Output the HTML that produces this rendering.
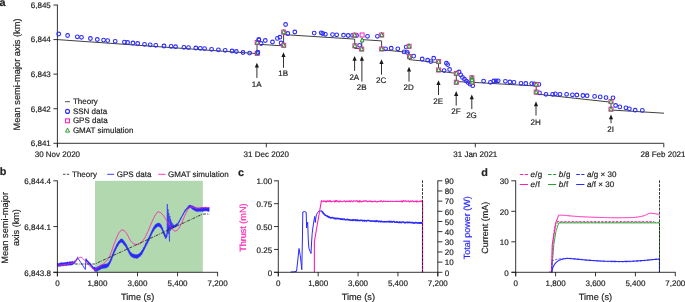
<!DOCTYPE html>
<html lang="en">
<head>
<meta charset="utf-8">
<title>Figure</title>
<style>
html,body{margin:0;padding:0;background:#ffffff;}
body{width:685px;height:302px;overflow:hidden;}
svg{display:block;text-rendering:geometricPrecision;font-family:"Liberation Sans",Arial,Helvetica,sans-serif;}
</style>
</head>
<body>
<svg width="685" height="302" viewBox="0 0 685 302">
<rect x="0" y="0" width="685" height="302" fill="#ffffff"/>
<line x1="57.4" y1="4.65" x2="57.4" y2="147.3" stroke="#1a1a1a" stroke-width="0.88"/>
<line x1="53.4" y1="143.3" x2="663.8" y2="143.3" stroke="#1a1a1a" stroke-width="0.88"/>
<line x1="53.4" y1="5" x2="57.4" y2="5" stroke="#1a1a1a" stroke-width="0.88"/>
<text x="50.8" y="7.9" font-size="8.0" text-anchor="end" fill="#222222" stroke="#222222" stroke-width="0.18">6,845</text>
<line x1="53.4" y1="39.58" x2="57.4" y2="39.58" stroke="#1a1a1a" stroke-width="0.88"/>
<text x="50.8" y="42.48" font-size="8.0" text-anchor="end" fill="#222222" stroke="#222222" stroke-width="0.18">6,844</text>
<line x1="53.4" y1="74.15" x2="57.4" y2="74.15" stroke="#1a1a1a" stroke-width="0.88"/>
<text x="50.8" y="77.05" font-size="8.0" text-anchor="end" fill="#222222" stroke="#222222" stroke-width="0.18">6,843</text>
<line x1="53.4" y1="108.73" x2="57.4" y2="108.73" stroke="#1a1a1a" stroke-width="0.88"/>
<text x="50.8" y="111.63" font-size="8.0" text-anchor="end" fill="#222222" stroke="#222222" stroke-width="0.18">6,842</text>
<text x="50.8" y="146.2" font-size="8.0" text-anchor="end" fill="#222222" stroke="#222222" stroke-width="0.18">6,841</text>
<line x1="57.4" y1="143.3" x2="57.4" y2="147.3" stroke="#1a1a1a" stroke-width="0.88"/>
<text x="57.4" y="157.3" font-size="8.0" text-anchor="middle" fill="#222222" stroke="#222222" stroke-width="0.18">30 Nov 2020</text>
<line x1="266.3" y1="143.3" x2="266.3" y2="147.3" stroke="#1a1a1a" stroke-width="0.88"/>
<text x="266.3" y="157.3" font-size="8.0" text-anchor="middle" fill="#222222" stroke="#222222" stroke-width="0.18">31 Dec 2020</text>
<line x1="475.3" y1="143.3" x2="475.3" y2="147.3" stroke="#1a1a1a" stroke-width="0.88"/>
<text x="475.3" y="157.3" font-size="8.0" text-anchor="middle" fill="#222222" stroke="#222222" stroke-width="0.18">31 Jan 2021</text>
<line x1="663.8" y1="143.3" x2="663.8" y2="147.3" stroke="#1a1a1a" stroke-width="0.88"/>
<text x="685.5" y="157.3" font-size="8.0" text-anchor="end" fill="#222222" stroke="#222222" stroke-width="0.18">28 Feb 2021</text>
<text x="20" y="74.5" font-size="9.3" text-anchor="middle" fill="#222222" transform="rotate(-90 20 74.5)" stroke="#222222" stroke-width="0.18">Mean semi-major axis (km)</text>
<text x="-0.6" y="5.6" font-size="10.8" text-anchor="start" fill="#222222" font-weight="bold" stroke="#222222" stroke-width="0.18">a</text>
<path d="M57.4 39.6 L257 53.6 L257 44.2 L283.6 45.9 L283.6 34.6 L354.7 39.1 L354.7 48.4 L361.8 48.9 L361.8 39.6 L381.6 40.9 L381.6 49.8 L409 52.4 L409 59.6 L438.5 62.6 L438.5 71 L456.3 73.4 L456.3 81.6 L472 82.3 L536.2 86 L536.2 94 L611 102.2 L611 110 L664 113.2" fill="none" stroke="#000000" stroke-width="0.75" stroke-linejoin="miter"/>
<line x1="256.9" y1="65.8" x2="256.9" y2="77.9" stroke="#1a1a1a" stroke-width="0.9"/>
<path d="M256.9 62.8 L254.8 67.6 L259 67.6 Z" fill="#1a1a1a"/>
<text x="256.6" y="86.8" font-size="8.0" text-anchor="middle" fill="#222222" stroke="#222222" stroke-width="0.18">1A</text>
<line x1="283.5" y1="55.2" x2="283.5" y2="67.9" stroke="#1a1a1a" stroke-width="0.9"/>
<path d="M283.5 52.2 L281.4 57 L285.6 57 Z" fill="#1a1a1a"/>
<text x="283.2" y="76.1" font-size="8.0" text-anchor="middle" fill="#222222" stroke="#222222" stroke-width="0.18">1B</text>
<line x1="354.6" y1="59" x2="354.6" y2="70.9" stroke="#1a1a1a" stroke-width="0.9"/>
<path d="M354.6 56 L352.5 60.8 L356.7 60.8 Z" fill="#1a1a1a"/>
<text x="354.3" y="79.5" font-size="8.0" text-anchor="middle" fill="#222222" stroke="#222222" stroke-width="0.18">2A</text>
<line x1="361.9" y1="59" x2="361.9" y2="81.6" stroke="#1a1a1a" stroke-width="0.9"/>
<path d="M361.9 56 L359.8 60.8 L364 60.8 Z" fill="#1a1a1a"/>
<text x="361.6" y="89.8" font-size="8.0" text-anchor="middle" fill="#222222" stroke="#222222" stroke-width="0.18">2B</text>
<line x1="381.5" y1="62.2" x2="381.5" y2="74.6" stroke="#1a1a1a" stroke-width="0.9"/>
<path d="M381.5 59.2 L379.4 64 L383.6 64 Z" fill="#1a1a1a"/>
<text x="381.2" y="82.8" font-size="8.0" text-anchor="middle" fill="#222222" stroke="#222222" stroke-width="0.18">2C</text>
<line x1="409" y1="69.7" x2="409" y2="81.6" stroke="#1a1a1a" stroke-width="0.9"/>
<path d="M409 66.7 L406.9 71.5 L411.1 71.5 Z" fill="#1a1a1a"/>
<text x="408.7" y="89.8" font-size="8.0" text-anchor="middle" fill="#222222" stroke="#222222" stroke-width="0.18">2D</text>
<line x1="438.5" y1="83.2" x2="438.5" y2="95.1" stroke="#1a1a1a" stroke-width="0.9"/>
<path d="M438.5 80.2 L436.4 85 L440.6 85 Z" fill="#1a1a1a"/>
<text x="438.2" y="103.6" font-size="8.0" text-anchor="middle" fill="#222222" stroke="#222222" stroke-width="0.18">2E</text>
<line x1="456.2" y1="94.1" x2="456.2" y2="105.6" stroke="#1a1a1a" stroke-width="0.9"/>
<path d="M456.2 91.1 L454.1 95.9 L458.3 95.9 Z" fill="#1a1a1a"/>
<text x="455.9" y="113.7" font-size="8.0" text-anchor="middle" fill="#222222" stroke="#222222" stroke-width="0.18">2F</text>
<line x1="471.8" y1="97.4" x2="471.8" y2="109" stroke="#1a1a1a" stroke-width="0.9"/>
<path d="M471.8 94.4 L469.7 99.2 L473.9 99.2 Z" fill="#1a1a1a"/>
<text x="471.5" y="117.5" font-size="8.0" text-anchor="middle" fill="#222222" stroke="#222222" stroke-width="0.18">2G</text>
<line x1="536" y1="104.5" x2="536" y2="115.5" stroke="#1a1a1a" stroke-width="0.9"/>
<path d="M536 101.5 L533.9 106.3 L538.1 106.3 Z" fill="#1a1a1a"/>
<text x="535.7" y="125" font-size="8.0" text-anchor="middle" fill="#222222" stroke="#222222" stroke-width="0.18">2H</text>
<line x1="611" y1="117.4" x2="611" y2="123.3" stroke="#1a1a1a" stroke-width="0.9"/>
<path d="M611 114.4 L608.9 119.2 L613.1 119.2 Z" fill="#1a1a1a"/>
<text x="610.7" y="131.8" font-size="8.0" text-anchor="middle" fill="#222222" stroke="#222222" stroke-width="0.18">2I</text>
<g fill="none" stroke="#2a2afc" stroke-width="1.08">
<circle cx="58.7" cy="34" r="1.85"/>
<circle cx="67.6" cy="35.5" r="1.85"/>
<circle cx="77.3" cy="36.8" r="1.85"/>
<circle cx="81.5" cy="37.3" r="1.85"/>
<circle cx="90.4" cy="38.5" r="1.85"/>
<circle cx="97.3" cy="39.5" r="1.85"/>
<circle cx="103.6" cy="40.1" r="1.85"/>
<circle cx="107.7" cy="40.6" r="1.85"/>
<circle cx="115.2" cy="41.3" r="1.85"/>
<circle cx="124.4" cy="42.1" r="1.85"/>
<circle cx="127.6" cy="42.5" r="1.85"/>
<circle cx="132.9" cy="43" r="1.85"/>
<circle cx="137.7" cy="43.5" r="1.85"/>
<circle cx="144.5" cy="44.3" r="1.85"/>
<circle cx="150.2" cy="44.8" r="1.85"/>
<circle cx="155.8" cy="45.3" r="1.85"/>
<circle cx="164" cy="46" r="1.85"/>
<circle cx="171.1" cy="46.4" r="1.85"/>
<circle cx="175.6" cy="46.7" r="1.85"/>
<circle cx="183.9" cy="47.3" r="1.85"/>
<circle cx="188.5" cy="47.6" r="1.85"/>
<circle cx="195.8" cy="48" r="1.85"/>
<circle cx="200.3" cy="48.3" r="1.85"/>
<circle cx="204.6" cy="48.6" r="1.85"/>
<circle cx="211.6" cy="49.3" r="1.85"/>
<circle cx="218.4" cy="49.8" r="1.85"/>
<circle cx="225.2" cy="50.3" r="1.85"/>
<circle cx="232" cy="51" r="1.85"/>
<circle cx="236.3" cy="51.5" r="1.85"/>
<circle cx="243" cy="52.5" r="1.85"/>
<circle cx="249.6" cy="53.1" r="1.85"/>
<circle cx="257.8" cy="52.5" r="1.85"/>
<circle cx="258.8" cy="39.7" r="1.85"/>
<circle cx="261.1" cy="43.5" r="1.85"/>
<circle cx="265.3" cy="40.5" r="1.85"/>
<circle cx="272.5" cy="42" r="1.85"/>
<circle cx="277.4" cy="38.4" r="1.85"/>
<circle cx="279.9" cy="37.2" r="1.85"/>
<circle cx="281.1" cy="43" r="1.85"/>
<circle cx="285.6" cy="24.5" r="1.85"/>
<circle cx="287.8" cy="33.5" r="1.85"/>
<circle cx="294.8" cy="32" r="1.85"/>
<circle cx="314.2" cy="33.1" r="1.85"/>
<circle cx="321.2" cy="32.8" r="1.85"/>
<circle cx="322.7" cy="33.5" r="1.85"/>
<circle cx="325.4" cy="34.3" r="1.85"/>
<circle cx="332.5" cy="34.6" r="1.85"/>
<circle cx="336.7" cy="34.8" r="1.85"/>
<circle cx="343.5" cy="35.2" r="1.85"/>
<circle cx="348.2" cy="35.5" r="1.85"/>
<circle cx="352.5" cy="35.4" r="1.85"/>
<circle cx="356.6" cy="35.5" r="1.85"/>
<circle cx="359.6" cy="45.3" r="1.85"/>
<circle cx="367.5" cy="36.3" r="1.85"/>
<circle cx="377.4" cy="36.3" r="1.85"/>
<circle cx="385.6" cy="48.8" r="1.85"/>
<circle cx="391.2" cy="48.2" r="1.85"/>
<circle cx="397.8" cy="48.8" r="1.85"/>
<circle cx="404.1" cy="51.9" r="1.85"/>
<circle cx="406.2" cy="47.1" r="1.85"/>
<circle cx="407.4" cy="52.5" r="1.85"/>
<circle cx="413.7" cy="56.1" r="1.85"/>
<circle cx="422.2" cy="59" r="1.85"/>
<circle cx="427.6" cy="60.2" r="1.85"/>
<circle cx="430.8" cy="61.6" r="1.85"/>
<circle cx="433.7" cy="58.2" r="1.85"/>
<circle cx="446.4" cy="63.2" r="1.85"/>
<circle cx="447.7" cy="64.6" r="1.85"/>
<circle cx="449.6" cy="69.5" r="1.85"/>
<circle cx="444.1" cy="70.6" r="1.85"/>
<circle cx="459.1" cy="72" r="1.85"/>
<circle cx="460.7" cy="74.9" r="1.85"/>
<circle cx="462.5" cy="77.4" r="1.85"/>
<circle cx="464.5" cy="79.2" r="1.85"/>
<circle cx="466.4" cy="81.1" r="1.85"/>
<circle cx="468.2" cy="82.6" r="1.85"/>
<circle cx="470.2" cy="84.2" r="1.85"/>
<circle cx="472.7" cy="85.7" r="1.85"/>
<circle cx="483.6" cy="81.1" r="1.85"/>
<circle cx="490.4" cy="82.3" r="1.85"/>
<circle cx="493.8" cy="81" r="1.85"/>
<circle cx="496.1" cy="80.8" r="1.85"/>
<circle cx="498.2" cy="80.8" r="1.85"/>
<circle cx="505.4" cy="81.3" r="1.85"/>
<circle cx="509.9" cy="82" r="1.85"/>
<circle cx="514" cy="82.3" r="1.85"/>
<circle cx="521" cy="83.3" r="1.85"/>
<circle cx="525.8" cy="83.5" r="1.85"/>
<circle cx="531.7" cy="83.6" r="1.85"/>
<circle cx="534.4" cy="83.8" r="1.85"/>
<circle cx="538.9" cy="84.4" r="1.85"/>
<circle cx="539.5" cy="92.9" r="1.85"/>
<circle cx="546" cy="94.3" r="1.85"/>
<circle cx="552.6" cy="94.3" r="1.85"/>
<circle cx="555.4" cy="93.8" r="1.85"/>
<circle cx="560" cy="94.3" r="1.85"/>
<circle cx="566.6" cy="94.3" r="1.85"/>
<circle cx="572.4" cy="94.8" r="1.85"/>
<circle cx="576.9" cy="95" r="1.85"/>
<circle cx="582.9" cy="95.5" r="1.85"/>
<circle cx="587.1" cy="95.7" r="1.85"/>
<circle cx="594.6" cy="96.4" r="1.85"/>
<circle cx="600.2" cy="96.9" r="1.85"/>
<circle cx="606" cy="97.6" r="1.85"/>
<circle cx="613" cy="97.8" r="1.85"/>
<circle cx="615.6" cy="105.5" r="1.85"/>
<circle cx="619.8" cy="106.9" r="1.85"/>
<circle cx="625.9" cy="107.8" r="1.85"/>
<circle cx="629.4" cy="108.8" r="1.85"/>
<circle cx="635.2" cy="110.2" r="1.85"/>
<circle cx="642.3" cy="110.4" r="1.85"/>
</g>
<g fill="#ffffff" stroke="#ff1fb4" stroke-width="1.0">
<rect x="255.2" y="40.5" width="4.0" height="4.0"/>
<rect x="255.2" y="51.3" width="4.0" height="4.0"/>
<rect x="281.7" y="30.1" width="4.0" height="4.0"/>
<rect x="281.7" y="43.3" width="4.0" height="4.0"/>
<rect x="352.7" y="33.2" width="4.0" height="4.0"/>
<rect x="352.9" y="43.8" width="4.0" height="4.0"/>
<rect x="360.1" y="33" width="4.0" height="4.0"/>
<rect x="359.7" y="47.1" width="4.0" height="4.0"/>
<rect x="379.7" y="33" width="4.0" height="4.0"/>
<rect x="379.7" y="47" width="4.0" height="4.0"/>
<rect x="407.1" y="44.3" width="4.0" height="4.0"/>
<rect x="407.5" y="54.6" width="4.0" height="4.0"/>
<rect x="436.6" y="59.6" width="4.0" height="4.0"/>
<rect x="436.6" y="68" width="4.0" height="4.0"/>
<rect x="454.3" y="71.4" width="4.0" height="4.0"/>
<rect x="454.3" y="80.3" width="4.0" height="4.0"/>
<rect x="469.9" y="75.8" width="4.0" height="4.0"/>
<rect x="470.2" y="80.3" width="4.0" height="4.0"/>
<rect x="534.2" y="82.5" width="4.0" height="4.0"/>
<rect x="534.2" y="90.1" width="4.0" height="4.0"/>
<rect x="609" y="99.6" width="4.0" height="4.0"/>
<rect x="609" y="107.2" width="4.0" height="4.0"/>
</g>
<g fill="#ffffff" stroke="#228f2c" stroke-width="1.0" stroke-linejoin="miter">
<path d="M257.2 39.9 L259.05 44.1 L255.35 44.1 Z"/>
<path d="M257.2 50.7 L259.05 54.9 L255.35 54.9 Z"/>
<path d="M283.7 29.5 L285.55 33.7 L281.85 33.7 Z"/>
<path d="M283.7 42.7 L285.55 46.9 L281.85 46.9 Z"/>
<path d="M354.7 32.6 L356.55 36.8 L352.85 36.8 Z"/>
<path d="M354.9 43.2 L356.75 47.4 L353.05 47.4 Z"/>
<path d="M361.7 46.5 L363.55 50.7 L359.85 50.7 Z"/>
<path d="M381.7 32.4 L383.55 36.6 L379.85 36.6 Z"/>
<path d="M381.7 46.4 L383.55 50.6 L379.85 50.6 Z"/>
<path d="M409.1 43.7 L410.95 47.9 L407.25 47.9 Z"/>
<path d="M409.5 54 L411.35 58.2 L407.65 58.2 Z"/>
<path d="M438.6 59 L440.45 63.2 L436.75 63.2 Z"/>
<path d="M438.6 67.4 L440.45 71.6 L436.75 71.6 Z"/>
<path d="M456.3 70.8 L458.15 75 L454.45 75 Z"/>
<path d="M456.3 79.7 L458.15 83.9 L454.45 83.9 Z"/>
<path d="M471.9 75.2 L473.75 79.4 L470.05 79.4 Z"/>
<path d="M472.2 79.7 L474.05 83.9 L470.35 83.9 Z"/>
<path d="M536.2 81.9 L538.05 86.1 L534.35 86.1 Z"/>
<path d="M536.2 89.5 L538.05 93.7 L534.35 93.7 Z"/>
<path d="M611 99 L612.85 103.2 L609.15 103.2 Z"/>
<path d="M611 106.6 L612.85 110.8 L609.15 110.8 Z"/>
<path d="M362.1 37.7 L363.95 41.9 L360.25 41.9 Z"/>
<path d="M472 77.4 L473.85 81.6 L470.15 81.6 Z"/>
</g>
<g fill="none" stroke="#2a2afc" stroke-width="1.08"><circle cx="257.8" cy="52.5" r="1.85"/><circle cx="258.8" cy="39.7" r="1.85"/></g>
<line x1="65.1" y1="101.7" x2="69.9" y2="101.7" stroke="#1a1a1a" stroke-width="0.8"/>
<text x="72.9" y="104.3" font-size="8.0" text-anchor="start" fill="#222222" stroke="#222222" stroke-width="0.18">Theory</text>
<circle cx="67.5" cy="111.4" r="2.0" fill="none" stroke="#2a2afc" stroke-width="1.1"/>
<text x="72.9" y="113.9" font-size="8.0" text-anchor="start" fill="#222222" stroke="#222222" stroke-width="0.18">SSN data</text>
<rect x="65.55" y="118.85" width="3.9" height="3.9" fill="none" stroke="#ff1fb4" stroke-width="1.05"/>
<text x="72.9" y="123.4" font-size="8.0" text-anchor="start" fill="#222222" stroke="#222222" stroke-width="0.18">GPS data</text>
<path d="M67.5 128.0 L69.6 132.1 L65.4 132.1 Z" fill="none" stroke="#2f9e33" stroke-width="1.0"/>
<text x="72.9" y="133" font-size="8.0" text-anchor="start" fill="#222222" stroke="#222222" stroke-width="0.18">GMAT simulation</text>
<rect x="95" y="180.8" width="107.8" height="91.5" fill="#b2d8b0"/>
<path d="M57.4 263.32 L57.64 263.07 L57.94 263.12 L58.28 263.41 L58.68 263.39 L59.1 263.32 L59.56 263.02 L60.03 263.18 L60.52 262.78 L61.02 262.76 L61.51 262.42 L62 262.45 L62.36 262.91 L62.75 262.75 L63.14 262.79 L63.55 262.43 L63.97 262.44 L64.4 262.73 L64.82 262.25 L65.25 262.46 L65.68 262.31 L66.1 262.02 L66.51 262.36 L66.91 262.11 L67.29 261.92 L67.66 261.71 L68 262.06 L68.49 262.19 L68.96 262.21 L69.41 261.66 L69.84 261.53 L70.25 261.61 L70.64 261.65 L71.01 261.42 L71.36 261.63 L71.69 261.86 L72 261.4 L72.53 261.16 L72.96 261.35 L73.32 261.83 L73.66 261.58 L74 261.46 L74.35 261.17 L74.69 260.7 L75.01 261.1 L75.31 260.45 L75.6 259.93 L75.87 259.96 L76.12 259.53 L76.35 258.74 L76.58 258.92 L76.8 258.54 L77.09 257.88 L77.38 257.88 L77.62 257.28 L77.8 256.63 L77.8 258.78 L77.62 258.94 L77.38 259.18 L77.09 259.47 L76.8 260.04 L76.58 260.2 L76.35 260.51 L76.12 261.4 L75.87 261.44 L75.6 262.1 L75.31 262.45 L75.01 262.47 L74.69 263.58 L74.35 263.43 L74 264.04 L73.66 263.78 L73.32 264.17 L72.96 264.79 L72.53 264.63 L72 265.25 L71.69 265.1 L71.36 265.12 L71.01 265.37 L70.64 265.07 L70.25 265.22 L69.84 265.06 L69.41 265.29 L68.96 265.41 L68.49 265.34 L68 265.58 L67.66 265.17 L67.29 265.34 L66.91 265.79 L66.51 265.63 L66.1 265.77 L65.68 265.54 L65.25 265.78 L64.82 265.72 L64.4 265.62 L63.97 265.57 L63.55 265.83 L63.14 266.03 L62.75 266.24 L62.36 265.79 L62 265.95 L61.51 265.84 L61.02 266.14 L60.52 266.58 L60.03 266.12 L59.56 266.6 L59.1 266.13 L58.68 266.42 L58.28 266.51 L57.94 266.45 L57.64 266.27 L57.4 266.36 Z" fill="#2a2afc" stroke="#2a2afc" stroke-width="0.3" stroke-linejoin="round"/>
<path d="M85.8 258.44 L86 258.52 L86.26 258.62 L86.57 258.95 L86.92 259.63 L87.29 260.19 L87.65 260.59 L88 260.85 L88.26 261.05 L88.54 261.58 L88.81 261.81 L89.09 262.17 L89.37 262.08 L89.66 262.65 L89.94 262.9 L90.22 262.88 L90.5 263.47 L90.78 264.07 L91.05 264.23 L91.33 264.24 L91.61 265.16 L91.88 265.15 L92.16 265.49 L92.44 265.83 L92.72 265.91 L93 266.62 L93.32 267 L93.65 267.07 L93.98 267.52 L94.31 266.68 L94.64 266.92 L94.96 267.16 L95.28 267.74 L95.6 267.75 L96 267.99 L96.39 267.73 L96.77 267.06 L97.16 266.83 L97.57 266.57 L98 266.85 L98.35 266.68 L98.72 266.18 L99.1 265.82 L99.49 265.72 L99.89 265.9 L100.27 265.11 L100.64 265.04 L101 265.28 L101.45 264.99 L101.87 264.41 L102.28 264.69 L102.69 264.36 L103.09 264.69 L103.5 264.07 L103.92 264.54 L104.34 263.92 L104.77 264.34 L105.19 264.47 L105.6 263.82 L106 264.03 L106.39 263.96 L106.77 263.52 L107.14 263.74 L107.51 263.52 L107.86 263.24 L108.2 263.11 L108.45 262.67 L108.68 262.2 L108.91 261.97 L109.14 261.55 L109.36 261.15 L109.57 260.81 L109.79 260.71 L110 260.18 L110.16 259.47 L110.32 259.42 L110.47 258.94 L110.62 258.92 L110.76 258.48 L110.91 257.75 L111.07 257.52 L111.23 256.87 L111.41 256.64 L111.6 256.24 L111.73 255.97 L111.86 255.61 L112 255.11 L112.14 254.57 L112.29 254.46 L112.44 253.87 L112.59 253.98 L112.74 253.61 L112.9 253.21 L113.06 252.3 L113.22 252.33 L113.37 251.58 L113.53 251.02 L113.69 251.1 L113.85 250.59 L114 249.81 L114.16 250 L114.33 249.36 L114.49 249.2 L114.66 248.45 L114.83 248.18 L114.99 248.17 L115.16 247.37 L115.33 247.39 L115.5 246.51 L115.66 246.63 L115.83 246.32 L116 245.81 L116.17 245.36 L116.33 244.75 L116.5 244.9 L116.73 244.17 L116.95 244.09 L117.18 243.26 L117.41 243.29 L117.64 242.51 L117.86 242.53 L118.09 242.18 L118.32 241.57 L118.55 241.19 L118.77 241.09 L119 240.63 L119.36 240.52 L119.71 240.18 L120.07 239.65 L120.43 239.05 L120.79 239.02 L121.14 238.99 L121.5 239.02 L121.81 238.75 L122.12 239.28 L122.44 238.98 L122.75 239.33 L123.06 239.88 L123.38 240.3 L123.69 240.45 L124 241.06 L124.23 241.08 L124.46 241.59 L124.7 242.15 L124.93 242.47 L125.16 242.68 L125.4 243.15 L125.63 242.96 L125.85 243.73 L126.08 244.08 L126.29 244.54 L126.5 244.82 L126.7 244.67 L126.89 245.54 L127.08 245.87 L127.26 246.45 L127.44 246.49 L127.61 247.06 L127.79 247.57 L127.96 247.87 L128.14 248.27 L128.32 248.44 L128.5 248.59 L128.7 248.85 L128.9 249.26 L129.1 249.86 L129.29 249.82 L129.49 250.37 L129.7 251.21 L129.91 250.96 L130.13 251.4 L130.36 252.12 L130.6 252.15 L130.92 252.26 L131.27 252.71 L131.63 252.91 L132 253.47 L132.38 253.76 L132.76 253.98 L133.13 253.84 L133.5 253.96 L133.92 254.22 L134.34 254.15 L134.76 254.47 L135.18 254.45 L135.59 254.46 L136 254.95 L136.4 254.49 L136.85 254.44 L137.3 254.52 L137.73 254.41 L138.16 254.04 L138.58 253.91 L139 254 L139.31 253.35 L139.63 253.2 L139.94 253.26 L140.25 252.52 L140.55 252.18 L140.85 251.94 L141.13 251.63 L141.4 250.97 L141.65 250.56 L141.89 250.86 L142.12 249.93 L142.34 249.8 L142.55 249.57 L142.76 249.17 L142.98 248.81 L143.2 247.83 L143.4 247.56 L143.6 247.14 L143.79 247.22 L143.99 246.66 L144.19 246.61 L144.39 245.9 L144.59 245.72 L144.79 245.19 L145 245 L145.17 244.07 L145.35 243.65 L145.53 243.31 L145.71 243.31 L145.9 242.5 L146.08 242.57 L146.26 242.26 L146.45 242.01 L146.63 241.52 L146.82 241.18 L147 240.64 L147.2 240.37 L147.38 239.67 L147.57 239.52 L147.75 238.99 L147.94 238.82 L148.13 238.48 L148.33 238.1 L148.54 238.03 L148.76 237.15 L149 236.97 L149.14 236.79 L149.29 235.99 L149.44 235.87 L149.6 235.57 L149.76 235.47 L149.93 235.05 L150.09 234.45 L150.26 233.76 L150.44 233.67 L150.61 233.43 L150.79 232.92 L150.96 232.58 L151.14 231.95 L151.31 231.42 L151.49 231.28 L151.66 230.93 L151.83 230.79 L152 229.82 L152.21 229.73 L152.43 229.06 L152.64 229.07 L152.86 228.58 L153.07 227.8 L153.29 227.47 L153.5 227.69 L153.71 226.73 L153.93 226.59 L154.14 226.4 L154.36 225.78 L154.57 225.37 L154.79 225.69 L155 225.13 L155.33 224.45 L155.67 224.29 L156 224.09 L156.33 224.09 L156.67 223.69 L157 223.19 L157.33 223.38 L157.67 222.91 L158 223.22 L158.38 222.94 L158.77 223.11 L159.17 223.11 L159.56 223.52 L159.95 223.31 L160.32 223.67 L160.67 224.46 L161 224.33 L161.2 225.06 L161.4 225.25 L161.58 225.66 L161.76 225.86 L161.92 226.56 L162.09 226.89 L162.25 227.07 L162.4 227.41 L162.55 228.02 L162.7 228.09 L162.85 228.57 L163 229.34 L163.2 229.74 L163.39 230.03 L163.57 230.65 L163.75 230.75 L163.92 231.52 L164.1 231.86 L164.27 232.29 L164.43 232.71 L164.6 232.47 L164.81 233.06 L165.03 233.43 L165.23 234.46 L165.44 234.52 L165.63 234.94 L165.82 235.38 L166 236.08 L166.14 235.89 L166.27 235.18 L166.38 234.83 L166.49 234.83 L166.61 234.01 L166.72 234.03 L166.85 233.26 L167 232.86 L167.1 232.04 L167.2 232.01 L167.3 231.37 L167.41 231.47 L167.51 230.43 L167.62 230.12 L167.74 229.97 L167.86 229.12 L167.98 229.19 L168.1 228.76 L168.23 228.62 L168.36 227.65 L168.5 227.34 L168.75 227.38 L169 226.51 L169.25 226.6 L169.53 226.31 L169.84 225.75 L170.19 225.78 L170.6 225.57 L170.93 225.6 L171.31 225.71 L171.72 225.31 L172.16 225.66 L172.61 225.58 L173.06 225.68 L173.5 225.41 L173.93 224.95 L174.33 225.29 L174.7 225.28 L175.11 224.68 L175.5 224.82 L175.86 224.35 L176.2 224.04 L176.53 223.85 L176.85 223.44 L177.17 223.67 L177.5 223.18 L177.72 223.26 L177.93 223.02 L178.15 222.41 L178.36 222.2 L178.56 221.77 L178.77 221.2 L178.97 220.7 L179.18 220.68 L179.38 220.04 L179.59 220.22 L179.79 219.79 L180 218.82 L180.19 218.51 L180.38 218.21 L180.58 218.28 L180.77 217.45 L180.96 217.34 L181.15 217.25 L181.35 216.94 L181.54 216.5 L181.73 215.86 L181.92 215.95 L182.12 215.13 L182.31 215.03 L182.5 214.34 L182.71 214.47 L182.92 213.85 L183.12 213.28 L183.33 213.22 L183.54 212.65 L183.75 212.33 L183.96 211.94 L184.17 211.53 L184.38 210.81 L184.58 210.8 L184.79 210.21 L185 210.4 L185.28 209.7 L185.56 209.33 L185.83 208.94 L186.11 208.91 L186.39 208.15 L186.67 208.23 L186.94 207.75 L187.22 207.65 L187.5 207.14 L187.86 207.12 L188.21 205.86 L188.57 206.03 L188.93 205.29 L189.29 205.44 L189.64 205.01 L190 204.97 L190.42 205.05 L190.83 205.19 L191.25 205.64 L191.67 205.57 L192.08 205.73 L192.5 205.74 L192.85 206.2 L193.2 205.98 L193.55 206.67 L193.89 206.39 L194.25 206.55 L194.62 206.91 L195 207.06 L195.39 207.36 L195.77 207.51 L196.16 207.64 L196.56 208.06 L197 207.83 L197.47 207.72 L198 207.98 L198.34 207.98 L198.71 208.21 L199.11 208.22 L199.53 207.89 L199.95 207.76 L200.39 207.65 L200.82 207.76 L201.25 207.71 L201.67 207.35 L202.07 207.37 L202.45 207.42 L202.8 207.76 L203.28 207.52 L203.71 207.19 L204.11 207.24 L204.49 207.72 L204.86 207.21 L205.23 207.09 L205.61 207.13 L206 207.35 L206.43 207.56 L206.9 207.37 L207.38 207.73 L207.85 207.67 L208.3 207.35 L208.7 207.74 L209.04 207.8 L209.3 207.45 L209.3 211.15 L209.04 211.25 L208.7 211.4 L208.3 211.45 L207.85 211.44 L207.38 210.88 L206.9 210.95 L206.43 210.89 L206 211.34 L205.61 210.8 L205.23 210.91 L204.86 210.85 L204.49 211.01 L204.11 211.44 L203.71 210.94 L203.28 211.53 L202.8 211.59 L202.45 211.5 L202.07 211.67 L201.67 211.11 L201.25 211.33 L200.82 211.15 L200.39 211.71 L199.95 211.27 L199.53 211.28 L199.11 211.59 L198.71 211.6 L198.34 211.38 L198 211.43 L197.47 211.8 L197 211.34 L196.56 211.51 L196.16 211.25 L195.77 211.27 L195.39 211.06 L195 210.71 L194.62 210.71 L194.25 210.21 L193.89 209.95 L193.55 210.1 L193.2 210.12 L192.85 209.46 L192.5 209.37 L192.08 209.16 L191.67 208.28 L191.25 208.52 L190.83 207.9 L190.42 207.74 L190 208.03 L189.64 207.93 L189.29 207.82 L188.93 208.64 L188.57 208.26 L188.21 209.1 L187.86 208.54 L187.5 209.15 L187.22 208.95 L186.94 209.37 L186.67 209.73 L186.39 210.24 L186.11 210.31 L185.83 210.37 L185.56 211.24 L185.28 211.57 L185 212.03 L184.79 211.86 L184.58 212.19 L184.38 213.11 L184.17 213.07 L183.96 213.55 L183.75 214.21 L183.54 214.14 L183.33 214.82 L183.12 214.79 L182.92 215.51 L182.71 215.59 L182.5 216.28 L182.31 216.39 L182.12 216.74 L181.92 217.19 L181.73 217.46 L181.54 218.1 L181.35 218.18 L181.15 218.66 L180.96 219.19 L180.77 219.18 L180.58 220.01 L180.38 220.13 L180.19 220.42 L180 220.91 L179.79 221 L179.59 221.45 L179.38 222.27 L179.18 222.58 L178.97 222.46 L178.77 223.22 L178.56 223.29 L178.36 224.17 L178.15 224.04 L177.93 224.75 L177.72 224.6 L177.5 224.84 L177.17 225.32 L176.85 225.94 L176.53 226.1 L176.2 226.86 L175.86 226.96 L175.5 226.98 L175.11 227.19 L174.7 227.4 L174.33 227.23 L173.93 227.96 L173.5 228.03 L173.06 227.79 L172.61 227.5 L172.16 228.03 L171.72 227.61 L171.31 227.89 L170.93 227.96 L170.6 228.39 L170.19 228.56 L169.84 228.52 L169.53 228.96 L169.25 229.05 L169 229.84 L168.75 229.88 L168.5 230.02 L168.36 230.74 L168.23 231.15 L168.1 231.18 L167.98 231.88 L167.86 232.22 L167.74 232.4 L167.62 233.27 L167.51 233.25 L167.41 233.54 L167.3 233.94 L167.2 234.87 L167.1 234.69 L167 235.25 L166.85 236.17 L166.72 236.39 L166.61 236.89 L166.49 237.65 L166.38 237.65 L166.27 237.94 L166.14 238.34 L166 238.2 L165.82 238.87 L165.63 238.67 L165.44 238.07 L165.23 238.24 L165.03 237.32 L164.81 237.27 L164.6 236.72 L164.43 236.02 L164.27 235.42 L164.1 235.69 L163.92 234.89 L163.75 234.88 L163.57 234.1 L163.39 233.51 L163.2 233.61 L163 233.03 L162.85 232.31 L162.7 231.99 L162.55 231.52 L162.4 231.48 L162.25 230.69 L162.09 230.43 L161.92 229.75 L161.76 229.97 L161.58 229.13 L161.4 229.07 L161.2 228.3 L161 228.49 L160.67 227.8 L160.32 227.62 L159.95 227.44 L159.56 227.05 L159.17 226.54 L158.77 226.54 L158.38 226.71 L158 226.35 L157.67 226.85 L157.33 226.65 L157 226.85 L156.67 227.5 L156.33 227.66 L156 227.8 L155.67 228.28 L155.33 228.62 L155 228.98 L154.79 228.87 L154.57 229.23 L154.36 229.95 L154.14 230.32 L153.93 230.01 L153.71 230.68 L153.5 231.21 L153.29 231.1 L153.07 232.06 L152.86 232.17 L152.64 232.43 L152.43 232.82 L152.21 233.52 L152 233.59 L151.83 234.03 L151.66 234.43 L151.49 234.93 L151.31 235.24 L151.14 235.97 L150.96 235.93 L150.79 236.22 L150.61 236.63 L150.44 237.08 L150.26 238.09 L150.09 237.95 L149.93 238.83 L149.76 238.7 L149.6 239.24 L149.44 239.54 L149.29 239.85 L149.14 240.51 L149 240.54 L148.76 240.88 L148.54 241.27 L148.33 242.08 L148.13 242.3 L147.94 242.36 L147.75 243.03 L147.57 243.6 L147.38 243.86 L147.2 244.3 L147 244.13 L146.82 244.54 L146.63 245.37 L146.45 245.67 L146.26 245.49 L146.08 246.13 L145.9 246.61 L145.71 246.84 L145.53 247.14 L145.35 247.8 L145.17 247.74 L145 248.53 L144.79 249 L144.59 249.06 L144.39 249.43 L144.19 249.96 L143.99 250.02 L143.79 251.01 L143.6 251.25 L143.4 251.49 L143.2 251.59 L142.98 252.28 L142.76 252.72 L142.55 253.38 L142.34 253.3 L142.12 254.18 L141.89 254.2 L141.65 254.9 L141.4 254.74 L141.13 255.04 L140.85 255.63 L140.55 255.86 L140.25 256.47 L139.94 256.49 L139.63 256.61 L139.31 257.08 L139 257.28 L138.58 257.41 L138.16 258.01 L137.73 258.22 L137.3 258.14 L136.85 258.64 L136.4 258.14 L136 258.19 L135.59 258.15 L135.18 257.96 L134.76 258.2 L134.34 258.23 L133.92 257.57 L133.5 257.88 L133.13 257.68 L132.76 257.64 L132.38 257.11 L132 256.65 L131.63 256.87 L131.27 256.74 L130.92 256.4 L130.6 256.08 L130.36 255.58 L130.13 255.48 L129.91 255.02 L129.7 254.82 L129.49 254.33 L129.29 253.62 L129.1 253.37 L128.9 253.37 L128.7 252.84 L128.5 252.37 L128.32 251.82 L128.14 251.31 L127.96 251.22 L127.79 250.75 L127.61 250.55 L127.44 250.18 L127.26 249.72 L127.08 249.33 L126.89 249.39 L126.7 248.74 L126.5 248.67 L126.29 247.96 L126.08 247.61 L125.85 247.1 L125.63 247.03 L125.4 246.8 L125.16 245.97 L124.93 246.03 L124.7 245.28 L124.46 245.11 L124.23 245.02 L124 244.88 L123.69 244.62 L123.38 243.93 L123.06 243.81 L122.75 243.21 L122.44 242.71 L122.12 242.75 L121.81 242.65 L121.5 242.21 L121.14 242.25 L120.79 242.49 L120.43 242.79 L120.07 243.08 L119.71 243.35 L119.36 243.71 L119 244.17 L118.77 244.37 L118.55 245.22 L118.32 245.13 L118.09 245.83 L117.86 246.18 L117.64 246.52 L117.41 247 L117.18 247.04 L116.95 247.19 L116.73 248.06 L116.5 248.64 L116.33 248.5 L116.17 249.29 L116 249.09 L115.83 249.89 L115.66 249.89 L115.5 250.74 L115.33 251.12 L115.16 251.16 L114.99 251.42 L114.83 251.87 L114.66 251.96 L114.49 252.56 L114.33 252.96 L114.16 253.41 L114 254.08 L113.85 254.21 L113.69 254.92 L113.53 255.32 L113.37 255.14 L113.22 255.94 L113.06 256.48 L112.9 256.73 L112.74 256.83 L112.59 257.37 L112.44 257.56 L112.29 258.51 L112.14 258.41 L112 259.21 L111.86 259.61 L111.73 259.66 L111.6 260.08 L111.41 260.42 L111.23 260.82 L111.07 261.44 L110.91 261.65 L110.76 261.84 L110.62 262.39 L110.47 262.87 L110.32 263.01 L110.16 263.36 L110 263.63 L109.79 264.27 L109.57 264.25 L109.36 264.53 L109.14 265.27 L108.91 265.91 L108.68 266.24 L108.45 266.24 L108.2 266.84 L107.86 266.91 L107.51 267.3 L107.14 267.32 L106.77 267.45 L106.39 268.07 L106 268.25 L105.6 268.16 L105.19 267.77 L104.77 268.17 L104.34 268.27 L103.92 268.42 L103.5 268.46 L103.09 268.09 L102.69 268.19 L102.28 268.83 L101.87 268.56 L101.45 268.99 L101 269.15 L100.64 269.1 L100.27 269.5 L99.89 269.62 L99.49 269.94 L99.1 269.94 L98.72 270.45 L98.35 270.17 L98 270.36 L97.57 270.69 L97.16 271.38 L96.77 271.24 L96.39 271.6 L96 271.41 L95.6 271.22 L95.28 271.46 L94.96 271.45 L94.64 271.28 L94.31 271.14 L93.98 269.51 L93.65 269.59 L93.32 269.26 L93 268.66 L92.72 268.6 L92.44 268.48 L92.16 267.49 L91.88 267.23 L91.61 267.44 L91.33 266.54 L91.05 266.26 L90.78 265.8 L90.5 265.74 L90.22 265.77 L89.94 264.84 L89.66 264.67 L89.37 264.21 L89.09 264.4 L88.81 263.74 L88.54 263.28 L88.26 262.92 L88 262.71 L87.65 262.28 L87.29 262.31 L86.92 261.78 L86.57 261.72 L86.26 261.4 L86 260.63 L85.8 260.83 Z" fill="#2a2afc" stroke="#2a2afc" stroke-width="0.3" stroke-linejoin="round"/>
<path d="M77.6 257.6 L85.4 269.5 L85.8 259.3" fill="none" stroke="#2a2afc" stroke-width="0.85" stroke-linejoin="miter"/>
<path d="M166.3 237.3 L167 237 L167.3 204 L167.7 232 L168 209 L168.4 234 L168.8 213 L169.1 236 L169.5 241.5 L169.8 216 L170.2 231 L170.6 219 L171 229.5 L171.4 221.5 L171.8 228.5 L172.3 223 L172.8 227.5 L173.3 224.5 L173.8 226.5" fill="none" stroke="#2a2afc" stroke-width="0.6" stroke-linejoin="miter"/>
<path d="M57.4 265.4 L57.88 265.35 L58.54 265.29 L59.32 265.21 L60.19 265.11 L61.1 265.01 L62 264.9 L62.61 264.82 L63.26 264.73 L63.93 264.63 L64.63 264.53 L65.33 264.43 L66.02 264.32 L66.71 264.21 L67.37 264.11 L68 264 L68.78 263.87 L69.56 263.76 L70.32 263.64 L71.05 263.52 L71.75 263.38 L72.4 263.21 L73 263 L73.74 262.64 L74.38 262.23 L74.95 261.77 L75.48 261.28 L76 260.8 L76.51 260.28 L76.99 259.71 L77.44 259.14 L77.88 258.62 L78.3 258.2 L78.94 257.7 L79.54 257.4 L80.2 257.3 L80.94 257.42 L81.74 257.75 L82.6 258.3 L83.07 258.68 L83.56 259.13 L84.06 259.64 L84.58 260.19 L85.09 260.75 L85.6 261.3 L86.1 261.86 L86.6 262.44 L87.1 263.04 L87.6 263.64 L88.1 264.23 L88.6 264.8 L89.1 265.35 L89.59 265.9 L90.09 266.44 L90.59 266.96 L91.09 267.45 L91.6 267.9 L92.24 268.43 L92.91 268.95 L93.58 269.41 L94.22 269.75 L94.8 269.9 L95.4 269.76 L95.91 269.36 L96.42 268.82 L97 268.3 L97.54 267.92 L98.13 267.51 L98.74 267.08 L99.37 266.64 L100 266.2 L100.53 265.84 L101.08 265.48 L101.64 265.11 L102.2 264.73 L102.75 264.33 L103.3 263.9 L103.85 263.43 L104.4 262.94 L104.94 262.42 L105.48 261.89 L106 261.35 L106.5 260.8 L106.97 260.25 L107.43 259.71 L107.87 259.16 L108.29 258.58 L108.7 257.96 L109.1 257.3 L109.43 256.69 L109.74 256.06 L110.04 255.4 L110.33 254.71 L110.62 254 L110.91 253.26 L111.2 252.5 L111.42 251.89 L111.64 251.26 L111.86 250.61 L112.07 249.94 L112.28 249.27 L112.5 248.58 L112.72 247.89 L112.96 247.2 L113.2 246.5 L113.43 245.87 L113.67 245.22 L113.91 244.57 L114.16 243.91 L114.42 243.24 L114.68 242.58 L114.93 241.92 L115.19 241.27 L115.45 240.63 L115.7 240 L115.98 239.3 L116.27 238.59 L116.55 237.88 L116.84 237.17 L117.12 236.48 L117.4 235.82 L117.68 235.2 L117.94 234.62 L118.2 234.1 L118.63 233.3 L119.03 232.64 L119.42 232.09 L119.8 231.62 L120.2 231.2 L120.89 230.6 L121.6 230.18 L122.3 230 L123 230.09 L123.7 230.41 L124.4 230.9 L124.93 231.37 L125.46 231.94 L125.98 232.59 L126.5 233.3 L126.84 233.82 L127.17 234.37 L127.5 234.96 L127.83 235.56 L128.16 236.18 L128.5 236.8 L128.83 237.44 L129.16 238.11 L129.49 238.79 L129.84 239.46 L130.2 240.1 L130.6 240.7 L131.04 241.26 L131.51 241.81 L132 242.34 L132.5 242.82 L133.01 243.24 L133.5 243.6 L134.23 244 L134.97 244.26 L135.7 244.42 L136.4 244.5 L137.3 244.48 L138.16 244.3 L139 244 L139.63 243.69 L140.25 243.31 L140.85 242.87 L141.4 242.4 L141.89 241.91 L142.34 241.37 L142.76 240.81 L143.2 240.2 L143.65 239.57 L144.09 238.91 L144.54 238.19 L145 237.4 L145.31 236.85 L145.61 236.3 L145.93 235.71 L146.25 235.07 L146.61 234.34 L147 233.5 L147.24 232.98 L147.48 232.42 L147.75 231.81 L148.02 231.18 L148.3 230.53 L148.58 229.86 L148.87 229.18 L149.15 228.49 L149.44 227.81 L149.72 227.15 L150 226.5 L150.27 225.86 L150.55 225.21 L150.82 224.55 L151.09 223.89 L151.36 223.23 L151.64 222.58 L151.91 221.94 L152.18 221.3 L152.45 220.68 L152.73 220.08 L153 219.5 L153.34 218.8 L153.68 218.11 L154.03 217.43 L154.38 216.76 L154.73 216.12 L155.07 215.52 L155.39 214.96 L155.71 214.45 L156 214 L156.57 213.18 L157.06 212.59 L157.54 212.21 L158.1 212 L158.77 211.98 L159.49 212.16 L160.25 212.5 L161 213 L161.49 213.43 L161.99 213.94 L162.49 214.53 L163 215.17 L163.5 215.83 L164 216.5 L164.38 217.01 L164.75 217.54 L165.12 218.09 L165.5 218.66 L165.88 219.23 L166.25 219.82 L166.62 220.41 L167 221 L167.38 221.61 L167.75 222.24 L168.12 222.89 L168.5 223.54 L168.88 224.19 L169.25 224.82 L169.62 225.43 L170 226 L170.44 226.63 L170.89 227.25 L171.34 227.85 L171.78 228.42 L172.22 228.94 L172.62 229.4 L173 229.8 L173.7 230.49 L174.3 230.9 L175 231 L175.54 230.93 L176.13 230.76 L176.75 230.48 L177.38 230.07 L178 229.5 L178.38 229.06 L178.75 228.54 L179.12 227.97 L179.5 227.34 L179.88 226.68 L180.25 225.97 L180.62 225.24 L181 224.5 L181.27 223.94 L181.55 223.34 L181.82 222.72 L182.09 222.08 L182.36 221.43 L182.64 220.76 L182.91 220.09 L183.18 219.43 L183.45 218.77 L183.73 218.13 L184 217.5 L184.3 216.82 L184.61 216.13 L184.92 215.43 L185.22 214.74 L185.53 214.06 L185.84 213.39 L186.14 212.74 L186.43 212.13 L186.72 211.54 L187 211 L187.44 210.15 L187.85 209.35 L188.25 208.62 L188.65 207.99 L189.06 207.48 L189.5 207.1 L190.2 206.87 L190.92 206.96 L191.69 207.2 L192.5 207.4 L193.19 207.53 L193.92 207.69 L194.68 207.86 L195.44 208 L196.2 208.1 L196.95 208.13 L197.7 208.13 L198.46 208.09 L199.23 208.05 L200 208 L200.64 207.96 L201.27 207.9 L201.91 207.84 L202.56 207.79 L203.26 207.73 L204 207.7 L204.74 207.68 L205.57 207.68 L206.46 207.68 L207.33 207.68 L208.13 207.69 L208.81 207.7 L209.3 207.7" fill="none" stroke="#ff1fb4" stroke-width="0.95" stroke-linejoin="round"/>
<path d="M74.8 264 L95 264 L202.8 214 L209.3 214" fill="none" stroke="#1a1a1a" stroke-width="0.8" stroke-linejoin="round" stroke-dasharray="3 1 0.8 1"/>
<line x1="57.4" y1="180.45" x2="57.4" y2="276.3" stroke="#1a1a1a" stroke-width="0.88"/>
<line x1="53.4" y1="272.3" x2="217.95" y2="272.3" stroke="#1a1a1a" stroke-width="0.88"/>
<line x1="53.4" y1="180.8" x2="57.4" y2="180.8" stroke="#1a1a1a" stroke-width="0.88"/>
<text x="51" y="184" font-size="8.0" text-anchor="end" fill="#222222" stroke="#222222" stroke-width="0.18">6,844.4</text>
<line x1="53.4" y1="226.55" x2="57.4" y2="226.55" stroke="#1a1a1a" stroke-width="0.88"/>
<text x="51" y="229.75" font-size="8.0" text-anchor="end" fill="#222222" stroke="#222222" stroke-width="0.18">6,844.1</text>
<line x1="53.4" y1="272.3" x2="57.4" y2="272.3" stroke="#1a1a1a" stroke-width="0.88"/>
<text x="51" y="275.5" font-size="8.0" text-anchor="end" fill="#222222" stroke="#222222" stroke-width="0.18">6,843.8</text>
<line x1="57.4" y1="272.3" x2="57.4" y2="276.3" stroke="#1a1a1a" stroke-width="0.88"/>
<text x="57.4" y="286" font-size="8.0" text-anchor="middle" fill="#222222" stroke="#222222" stroke-width="0.18">0</text>
<line x1="97.45" y1="272.3" x2="97.45" y2="276.3" stroke="#1a1a1a" stroke-width="0.88"/>
<text x="97.45" y="286" font-size="8.0" text-anchor="middle" fill="#222222" stroke="#222222" stroke-width="0.18">1,800</text>
<line x1="137.5" y1="272.3" x2="137.5" y2="276.3" stroke="#1a1a1a" stroke-width="0.88"/>
<text x="137.5" y="286" font-size="8.0" text-anchor="middle" fill="#222222" stroke="#222222" stroke-width="0.18">3,600</text>
<line x1="177.55" y1="272.3" x2="177.55" y2="276.3" stroke="#1a1a1a" stroke-width="0.88"/>
<text x="177.55" y="286" font-size="8.0" text-anchor="middle" fill="#222222" stroke="#222222" stroke-width="0.18">5,400</text>
<line x1="217.6" y1="272.3" x2="217.6" y2="276.3" stroke="#1a1a1a" stroke-width="0.88"/>
<text x="217.6" y="286" font-size="8.0" text-anchor="middle" fill="#222222" stroke="#222222" stroke-width="0.18">7,200</text>
<text x="137.6" y="300.3" font-size="9.2" text-anchor="middle" fill="#222222" stroke="#222222" stroke-width="0.18">Time (s)</text>
<text x="8.2" y="227.9" font-size="9.3" text-anchor="middle" fill="#222222" transform="rotate(-90 8.2 227.9)" stroke="#222222" stroke-width="0.18">Mean semi-major</text>
<text x="19.4" y="227.6" font-size="9.15" text-anchor="middle" fill="#222222" transform="rotate(-90 19.4 227.6)" stroke="#222222" stroke-width="0.18">axis (km)</text>
<text x="-0.3" y="175.4" font-size="10.8" text-anchor="start" fill="#222222" font-weight="bold" stroke="#222222" stroke-width="0.18">b</text>
<line x1="63" y1="174.3" x2="69.4" y2="174.3" stroke="#1a1a1a" stroke-width="0.8" stroke-dasharray="2.4 1.4"/>
<text x="72" y="177.2" font-size="8.0" text-anchor="start" fill="#222222" stroke="#222222" stroke-width="0.18">Theory</text>
<line x1="107.2" y1="174.3" x2="114.2" y2="174.3" stroke="#2a2afc" stroke-width="0.9"/>
<text x="116.7" y="177.2" font-size="8.0" text-anchor="start" fill="#222222" stroke="#222222" stroke-width="0.18">GPS data</text>
<line x1="158.3" y1="174.3" x2="165.5" y2="174.3" stroke="#ff1fb4" stroke-width="0.9"/>
<text x="168" y="177.2" font-size="8.0" text-anchor="start" fill="#222222" stroke="#222222" stroke-width="0.18">GMAT simulation</text>
<text x="238" y="175.8" font-size="10.8" text-anchor="start" fill="#222222" font-weight="bold" stroke="#222222" stroke-width="0.18">c</text>
<path d="M290.7 272 L293.5 271.8 L296.5 271.4 L297.6 262 L299 248.5 L300.3 255.6 L301 262 L301.8 269.7 L302.4 240 L302.8 212 L304.5 211.6 L306.2 212.2 L306.6 228 L307.7 222.3 L308.3 240 L308.9 248.2 L310 251 L311 253.5 L311.6 242 L312.2 233.3 L313.4 224 L314.7 216.5 L315.3 222.5 L315.8 218 L316.4 214.8 L317.6 212.6 L318.8 211.2 L320 211.3 L321.3 210.7" fill="none" stroke="#2a2afc" stroke-width="1.0" stroke-linejoin="miter"/>
<path d="M321.3 211.04 L321.56 211.05 L321.94 211.49 L322.37 212.25 L322.8 212.04 L323.13 213.25 L323.47 213.35 L323.82 213.58 L324.2 214.37 L324.6 214.29 L325.04 215.3 L325.51 215.26 L326 215.39 L326.5 216.05 L327 216.05 L327.48 216.08 L327.94 216.84 L328.42 216.45 L328.96 217.37 L329.6 217.08 L330 217.55 L330.44 217.98 L330.89 217.74 L331.37 217.92 L331.87 217.72 L332.39 217.55 L332.91 217.68 L333.45 217.89 L334 218.4 L334.43 218.31 L334.83 218.45 L335.21 218.86 L335.59 218.23 L335.99 218.37 L336.41 218.81 L336.88 218.3 L337.41 218.34 L338.01 218.72 L338.7 218.57 L339.5 218.87 L339.87 218.79 L340.26 219.15 L340.66 219.19 L341.08 218.88 L341.51 219.3 L341.96 219.21 L342.42 218.95 L342.89 219.71 L343.37 219.13 L343.87 219.09 L344.38 219.09 L344.89 219.62 L345.42 219.88 L345.95 219.84 L346.5 219.55 L347.05 219.47 L347.6 219.29 L348.16 219.9 L348.73 219.87 L349.3 219.72 L349.88 220.03 L350.46 219.89 L351.04 220.38 L351.63 220.23 L352.21 219.84 L352.8 220.46 L353.25 219.72 L353.71 220.18 L354.16 220.1 L354.63 219.97 L355.09 219.84 L355.57 220.51 L356.04 219.84 L356.52 220.35 L357 220.73 L357.49 220.03 L357.98 220.11 L358.47 220.5 L358.97 220.43 L359.46 220.57 L359.97 220.75 L360.47 220.2 L360.98 220.34 L361.49 220.35 L362.01 220.15 L362.52 220.93 L363.04 220.86 L363.57 220.82 L364.09 220.2 L364.62 220.98 L365.15 220.91 L365.68 220.68 L366.21 220.95 L366.75 220.71 L367.28 220.53 L367.82 220.45 L368.37 220.59 L368.91 220.44 L369.45 220.73 L370 221.12 L370.47 221.1 L370.94 221.25 L371.41 221.16 L371.89 220.78 L372.37 221.06 L372.85 220.97 L373.33 221.31 L373.82 221.1 L374.31 220.89 L374.8 221.25 L375.3 221.56 L375.79 220.91 L376.29 221.53 L376.79 220.78 L377.29 221.02 L377.8 221.02 L378.3 221.5 L378.81 221.7 L379.32 221.55 L379.82 221.19 L380.33 221.72 L380.84 221.24 L381.35 221.18 L381.87 221.81 L382.38 221.58 L382.89 221.66 L383.4 221.66 L383.91 221.97 L384.42 221.53 L384.93 221.89 L385.45 221.78 L385.96 221.95 L386.46 221.59 L386.97 221.87 L387.48 221.75 L387.99 221.54 L388.49 221.48 L389 221.87 L389.5 221.4 L390 222.17 L390.5 221.5 L391.01 221.42 L391.52 221.51 L392.03 222.27 L392.55 221.77 L393.07 221.61 L393.6 221.53 L394.12 221.56 L394.65 222.17 L395.18 222.13 L395.71 222.21 L396.24 222.27 L396.77 221.69 L397.31 222.18 L397.84 222 L398.37 222.43 L398.9 222.45 L399.43 222.54 L399.96 221.81 L400.48 222.56 L401 222.62 L401.52 222.67 L402.04 221.93 L402.55 222.04 L403.06 221.98 L403.57 221.93 L404.07 222.68 L404.57 222.67 L405.06 222.53 L405.54 222.72 L406.02 222.56 L406.49 222.27 L406.96 222.12 L407.42 222.14 L407.87 222.75 L408.31 222.27 L408.75 222.39 L409.17 222.5 L409.59 222.15 L410 222.38 L410.67 222.43 L411.33 222.85 L411.99 222.56 L412.64 222.55 L413.28 223.15 L413.9 222.76 L414.52 223.1 L415.13 222.91 L415.72 222.41 L416.29 222.78 L416.86 222.82 L417.4 223.15 L417.93 222.78 L418.44 223.13 L418.93 223 L419.4 222.73 L419.84 223.33 L420.27 222.65 L420.67 223.32 L421.05 222.75 L421.4 222.61 L421.73 222.81 L422.03 223.32 L422.3 223.53" fill="none" stroke="#2a2afc" stroke-width="1.5" stroke-linejoin="round"/>
<line x1="422.4" y1="223.1" x2="422.4" y2="272.3" stroke="#2a2afc" stroke-width="0.8"/>
<path d="M314.4 272.3 L314.4 241.6 L317.2 225 L321.3 201.4 L321.6 200.56 L322.15 201.29 L322.7 201.29 L323.25 201.75 L323.8 200.83 L324.35 201.29 L324.9 201.07 L325.45 201.8 L326 200.94 L326.55 201.97 L327.1 200.98 L327.65 200.87 L328.2 201.6 L328.75 201.3 L329.3 200.71 L329.85 201.5 L330.4 200.67 L330.95 201.73 L331.5 201.6 L332.05 201.73 L332.6 201.49 L333.15 201.08 L333.7 201.15 L334.25 201.14 L334.8 201.89 L335.35 200.68 L335.9 201.88 L336.45 200.59 L337 200.86 L337.55 200.94 L338.1 201.9 L338.65 201.3 L339.2 201.12 L339.75 201.88 L340.3 200.9 L340.85 201.24 L341.4 201.35 L341.95 201.68 L342.5 201.68 L343.05 201.52 L343.6 201.07 L344.15 201.04 L344.7 200.78 L345.25 201.81 L345.8 201.54 L346.35 201.66 L346.9 200.8 L347.45 201.21 L348 201.71 L348.55 201.42 L349.1 200.74 L349.65 201.24 L350.2 201.88 L350.75 200.91 L351.3 200.84 L351.85 201 L352.4 201.6 L352.95 201.82 L353.5 200.78 L354.05 200.78 L354.6 200.92 L355.15 201.04 L355.7 201.33 L356.25 200.79 L356.8 201.04 L357.35 200.83 L357.9 202.01 L358.45 201.64 L359 200.7 L359.55 201.99 L360.1 200.7 L360.65 201.13 L361.2 202.03 L361.75 201.74 L362.3 201.65 L362.85 201.2 L363.4 200.84 L363.95 201.51 L364.5 200.71 L365.05 200.86 L365.6 201.13 L366.15 200.6 L366.7 201.15 L367.25 201.74 L367.8 201.59 L368.35 201.3 L368.9 201.5 L369.45 201.24 L370 200.76 L370.55 201.46 L371.1 201.16 L371.65 201.66 L372.2 201.91 L372.75 201.2 L373.3 201.41 L373.85 201.67 L374.4 201.18 L374.95 200.89 L375.5 201.63 L376.05 201.87 L376.6 201.71 L377.15 201.6 L377.7 201.83 L378.25 201.57 L378.8 201.51 L379.35 201.23 L379.9 201.02 L380.45 201.49 L381 200.7 L381.55 201.18 L382.1 201.72 L382.65 201.62 L383.2 201.49 L383.75 200.93 L384.3 201.19 L384.85 201.23 L385.4 201.48 L385.95 201.16 L386.5 201.35 L387.05 201.43 L387.6 201.2 L388.15 201.35 L388.7 201.38 L389.25 201.27 L389.8 201.3 L390.35 201.44 L390.9 201.16 L391.45 201.31 L392 201.2 L392.55 201.38 L393.1 201.43 L393.65 201.31 L394.2 201.18 L394.75 201.32 L395.3 201.31 L395.85 201.37 L396.4 201.3 L396.95 201.34 L397.5 201.4 L398.05 201.31 L398.6 201.27 L399.15 201.43 L399.7 201.21 L400.25 201.36 L400.8 201.27 L401.35 201.69 L401.9 200.73 L402.45 202.03 L403 201.08 L403.55 200.63 L404.1 200.96 L404.65 201.15 L405.2 200.57 L405.75 201.18 L406.3 201.18 L406.85 201.6 L407.4 201.08 L407.95 200.95 L408.5 200.89 L409.05 201.66 L409.6 201.96 L410.15 201.34 L410.7 200.88 L411.25 201.75 L411.8 201.14 L412.35 200.87 L412.9 200.74 L413.45 201.71 L414 201.76 L414.55 201.5 L415.1 201.25 L415.65 201.39 L416.2 200.89 L416.75 202 L417.3 201.08 L417.85 201.51 L418.4 201.78 L418.95 201.77 L419.5 201.25 L420.05 200.99 L420.6 201.37 L421.15 200.74 L421.7 201.8 L422.25 201.08 L422.6 201.3 L422.6 272.3" fill="none" stroke="#ff1fb4" stroke-width="1.1" stroke-linejoin="round"/>
<line x1="422.5" y1="180.3" x2="422.5" y2="272.3" stroke="#1a1a1a" stroke-width="0.85" stroke-dasharray="2.8 1.1"/>
<line x1="278.3" y1="180.45" x2="278.3" y2="276.3" stroke="#1a1a1a" stroke-width="0.88"/>
<line x1="274.3" y1="272.3" x2="437.8" y2="272.3" stroke="#1a1a1a" stroke-width="0.88"/>
<line x1="437.8" y1="180.45" x2="437.8" y2="276.3" stroke="#1a1a1a" stroke-width="0.88"/>
<line x1="273.9" y1="180.8" x2="278.3" y2="180.8" stroke="#1a1a1a" stroke-width="0.88"/>
<text x="272.1" y="184" font-size="8.0" text-anchor="end" fill="#222222" stroke="#222222" stroke-width="0.18">1.00</text>
<line x1="273.9" y1="203.68" x2="278.3" y2="203.68" stroke="#1a1a1a" stroke-width="0.88"/>
<text x="272.1" y="206.88" font-size="8.0" text-anchor="end" fill="#222222" stroke="#222222" stroke-width="0.18">0.75</text>
<line x1="273.9" y1="226.55" x2="278.3" y2="226.55" stroke="#1a1a1a" stroke-width="0.88"/>
<text x="272.1" y="229.75" font-size="8.0" text-anchor="end" fill="#222222" stroke="#222222" stroke-width="0.18">0.50</text>
<line x1="273.9" y1="249.43" x2="278.3" y2="249.43" stroke="#1a1a1a" stroke-width="0.88"/>
<text x="272.1" y="252.62" font-size="8.0" text-anchor="end" fill="#222222" stroke="#222222" stroke-width="0.18">0.25</text>
<line x1="273.9" y1="272.3" x2="278.3" y2="272.3" stroke="#1a1a1a" stroke-width="0.88"/>
<text x="272.1" y="275.5" font-size="8.0" text-anchor="end" fill="#222222" stroke="#222222" stroke-width="0.18">0</text>
<line x1="437.8" y1="272.3" x2="442.4" y2="272.3" stroke="#1a1a1a" stroke-width="0.88"/>
<text x="444.8" y="275.5" font-size="8.0" text-anchor="start" fill="#222222" stroke="#222222" stroke-width="0.18">0</text>
<line x1="437.8" y1="262.13" x2="442.4" y2="262.13" stroke="#1a1a1a" stroke-width="0.88"/>
<text x="444.8" y="265.33" font-size="8.0" text-anchor="start" fill="#222222" stroke="#222222" stroke-width="0.18">10</text>
<line x1="437.8" y1="251.97" x2="442.4" y2="251.97" stroke="#1a1a1a" stroke-width="0.88"/>
<text x="444.8" y="255.17" font-size="8.0" text-anchor="start" fill="#222222" stroke="#222222" stroke-width="0.18">20</text>
<line x1="437.8" y1="241.8" x2="442.4" y2="241.8" stroke="#1a1a1a" stroke-width="0.88"/>
<text x="444.8" y="245" font-size="8.0" text-anchor="start" fill="#222222" stroke="#222222" stroke-width="0.18">30</text>
<line x1="437.8" y1="231.63" x2="442.4" y2="231.63" stroke="#1a1a1a" stroke-width="0.88"/>
<text x="444.8" y="234.83" font-size="8.0" text-anchor="start" fill="#222222" stroke="#222222" stroke-width="0.18">40</text>
<line x1="437.8" y1="221.47" x2="442.4" y2="221.47" stroke="#1a1a1a" stroke-width="0.88"/>
<text x="444.8" y="224.67" font-size="8.0" text-anchor="start" fill="#222222" stroke="#222222" stroke-width="0.18">50</text>
<line x1="437.8" y1="211.3" x2="442.4" y2="211.3" stroke="#1a1a1a" stroke-width="0.88"/>
<text x="444.8" y="214.5" font-size="8.0" text-anchor="start" fill="#222222" stroke="#222222" stroke-width="0.18">60</text>
<line x1="437.8" y1="201.13" x2="442.4" y2="201.13" stroke="#1a1a1a" stroke-width="0.88"/>
<text x="444.8" y="204.33" font-size="8.0" text-anchor="start" fill="#222222" stroke="#222222" stroke-width="0.18">70</text>
<line x1="437.8" y1="190.97" x2="442.4" y2="190.97" stroke="#1a1a1a" stroke-width="0.88"/>
<text x="444.8" y="194.17" font-size="8.0" text-anchor="start" fill="#222222" stroke="#222222" stroke-width="0.18">80</text>
<line x1="437.8" y1="180.8" x2="442.4" y2="180.8" stroke="#1a1a1a" stroke-width="0.88"/>
<text x="444.8" y="184" font-size="8.0" text-anchor="start" fill="#222222" stroke="#222222" stroke-width="0.18">90</text>
<line x1="278.3" y1="272.3" x2="278.3" y2="276.3" stroke="#1a1a1a" stroke-width="0.88"/>
<text x="278.3" y="286" font-size="8.0" text-anchor="middle" fill="#222222" stroke="#222222" stroke-width="0.18">0</text>
<line x1="318.18" y1="272.3" x2="318.18" y2="276.3" stroke="#1a1a1a" stroke-width="0.88"/>
<text x="318.18" y="286" font-size="8.0" text-anchor="middle" fill="#222222" stroke="#222222" stroke-width="0.18">1,800</text>
<line x1="358.05" y1="272.3" x2="358.05" y2="276.3" stroke="#1a1a1a" stroke-width="0.88"/>
<text x="358.05" y="286" font-size="8.0" text-anchor="middle" fill="#222222" stroke="#222222" stroke-width="0.18">3,600</text>
<line x1="397.93" y1="272.3" x2="397.93" y2="276.3" stroke="#1a1a1a" stroke-width="0.88"/>
<text x="397.93" y="286" font-size="8.0" text-anchor="middle" fill="#222222" stroke="#222222" stroke-width="0.18">5,400</text>
<line x1="437.8" y1="272.3" x2="437.8" y2="276.3" stroke="#1a1a1a" stroke-width="0.88"/>
<text x="437.8" y="286" font-size="8.0" text-anchor="middle" fill="#222222" stroke="#222222" stroke-width="0.18">7,200</text>
<text x="358.3" y="300.3" font-size="9.2" text-anchor="middle" fill="#222222" stroke="#222222" stroke-width="0.18">Time (s)</text>
<text x="246" y="227.7" font-size="9.05" text-anchor="middle" fill="#ff1fb4" transform="rotate(-90 246 227.7)" stroke="#ff1fb4" stroke-width="0.18">Thrust (mN)</text>
<text x="470" y="227.7" font-size="9.0" text-anchor="middle" fill="#2a2afc" transform="rotate(-90 470 227.7)" stroke="#2a2afc" stroke-width="0.18">Total power (W)</text>
<text x="481.3" y="175.8" font-size="10.8" text-anchor="start" fill="#222222" font-weight="bold" stroke="#222222" stroke-width="0.18">d</text>
<path d="M551.7 272.3 L553.8 244.7 L556 231 L558.8 222.9 L659.5 222.9 L659.5 272.3" fill="none" stroke="#2f9e33" stroke-width="0.9" stroke-linejoin="round"/>
<path d="M551.7 272.3 L553 246 L555 228 L557.5 222.3 L659.5 222.3" fill="none" stroke="#2f9e33" stroke-width="0.8" stroke-linejoin="round" stroke-dasharray="2.2 1.3"/>
<path d="M551.7 272.3 L552.6 245 L554.2 230 L556 221.6 L654 221.6" fill="none" stroke="#ff1fb4" stroke-width="0.9" stroke-linejoin="round" stroke-dasharray="2.3 1.4"/>
<path d="M551.5 272.3 L552.2 244.7 L555.9 222.5 L558.6 215.3 L558.8 215.2 L559.22 215.19 L559.79 215.17 L560.46 215.16 L561.24 215.15 L562.09 215.16 L563 215.2 L563.55 215.24 L564.09 215.29 L564.64 215.35 L565.21 215.42 L565.83 215.49 L566.49 215.56 L567.22 215.65 L568.04 215.73 L568.96 215.81 L570 215.9 L570.51 215.94 L571.03 215.98 L571.56 216.02 L572.11 216.07 L572.67 216.11 L573.25 216.16 L573.84 216.2 L574.45 216.25 L575.08 216.3 L575.73 216.35 L576.39 216.39 L577.07 216.44 L577.77 216.49 L578.49 216.54 L579.23 216.59 L579.99 216.63 L580.77 216.68 L581.57 216.73 L582.39 216.77 L583.24 216.82 L584.11 216.86 L585 216.9 L585.55 216.92 L586.12 216.95 L586.7 216.97 L587.31 217 L587.93 217.02 L588.57 217.05 L589.22 217.08 L589.89 217.1 L590.56 217.13 L591.25 217.15 L591.95 217.18 L592.66 217.2 L593.37 217.23 L594.09 217.25 L594.82 217.28 L595.55 217.3 L596.28 217.33 L597.02 217.35 L597.76 217.37 L598.49 217.4 L599.22 217.42 L599.96 217.44 L600.68 217.46 L601.4 217.49 L602.12 217.51 L602.83 217.53 L603.53 217.55 L604.22 217.57 L604.9 217.58 L605.56 217.6 L606.22 217.62 L606.86 217.63 L607.48 217.65 L608.09 217.66 L608.68 217.68 L609.25 217.69 L609.8 217.7 L610.7 217.72 L611.56 217.73 L612.41 217.74 L613.22 217.75 L614.02 217.76 L614.79 217.77 L615.54 217.77 L616.27 217.77 L616.98 217.77 L617.67 217.77 L618.34 217.77 L619 217.77 L619.65 217.76 L620.28 217.76 L620.9 217.75 L621.51 217.74 L622.11 217.74 L622.7 217.73 L623.28 217.72 L623.86 217.71 L624.43 217.71 L625 217.7 L625.87 217.69 L626.69 217.68 L627.47 217.68 L628.21 217.67 L628.93 217.66 L629.62 217.65 L630.28 217.64 L630.93 217.62 L631.56 217.6 L632.19 217.57 L632.81 217.54 L633.44 217.5 L634.06 217.46 L634.7 217.4 L635.45 217.32 L636.21 217.23 L636.97 217.13 L637.73 217.02 L638.48 216.9 L639.21 216.78 L639.92 216.65 L640.6 216.52 L641.26 216.39 L641.88 216.26 L642.46 216.13 L643 216 L643.92 215.74 L644.67 215.47 L645.31 215.19 L645.87 214.91 L646.42 214.65 L647 214.4 L647.72 214.11 L648.39 213.81 L649.05 213.55 L649.72 213.33 L650.4 213.2 L651.08 213.17 L651.73 213.23 L652.41 213.33 L653.16 213.47 L654 213.6 L654.63 213.69 L655.37 213.79 L656.17 213.91 L656.98 214.02 L657.76 214.14 L658.47 214.25 L659.06 214.34 L659.5 214.4" fill="none" stroke="#ff1fb4" stroke-width="1.0" stroke-linejoin="round"/>
<line x1="549" y1="271.9" x2="551.6" y2="271.9" stroke="#ff1fb4" stroke-width="0.8"/>
<path d="M551.7 272.3 L551.82 271.83 L551.97 271.17 L552.16 270.39 L552.36 269.55 L552.58 268.71 L552.79 267.94 L553 267.3 L553.35 266.43 L553.72 265.73 L554.1 265.11 L554.5 264.5 L554.92 263.9 L555.35 263.33 L555.81 262.8 L556.3 262.3 L556.83 261.83 L557.39 261.38 L557.99 260.97 L558.6 260.6 L559.24 260.27 L559.89 259.99 L560.58 259.73 L561.3 259.5 L562.06 259.29 L562.86 259.1 L563.67 258.94 L564.5 258.8 L565.11 258.7 L565.67 258.61 L566.26 258.54 L566.98 258.5 L567.9 258.5 L568.43 258.51 L568.99 258.54 L569.58 258.57 L570.2 258.61 L570.86 258.66 L571.57 258.71 L572.33 258.77 L573.16 258.84 L574.04 258.92 L575 259 L575.53 259.05 L576.08 259.1 L576.65 259.15 L577.24 259.21 L577.84 259.27 L578.45 259.33 L579.09 259.4 L579.74 259.47 L580.4 259.53 L581.08 259.6 L581.77 259.67 L582.48 259.74 L583.2 259.81 L583.94 259.88 L584.68 259.95 L585.44 260.01 L586.22 260.08 L587 260.14 L587.8 260.2 L588.39 260.24 L588.99 260.29 L589.6 260.33 L590.23 260.37 L590.85 260.42 L591.49 260.46 L592.14 260.5 L592.79 260.55 L593.45 260.59 L594.12 260.64 L594.8 260.68 L595.48 260.72 L596.17 260.76 L596.86 260.8 L597.56 260.84 L598.27 260.88 L598.97 260.92 L599.69 260.96 L600.4 260.99 L601.12 261.03 L601.85 261.06 L602.57 261.09 L603.3 261.12 L604.03 261.15 L604.77 261.18 L605.5 261.2 L606.14 261.22 L606.79 261.24 L607.45 261.26 L608.12 261.28 L608.8 261.29 L609.48 261.31 L610.17 261.32 L610.87 261.34 L611.57 261.35 L612.27 261.37 L612.98 261.38 L613.69 261.39 L614.4 261.4 L615.11 261.41 L615.83 261.42 L616.54 261.43 L617.25 261.43 L617.95 261.44 L618.66 261.44 L619.36 261.44 L620.06 261.45 L620.75 261.45 L621.43 261.45 L622.11 261.44 L622.78 261.44 L623.45 261.43 L624.1 261.43 L624.74 261.42 L625.38 261.41 L626 261.4 L626.77 261.38 L627.54 261.36 L628.3 261.34 L629.06 261.31 L629.82 261.28 L630.57 261.25 L631.32 261.21 L632.06 261.18 L632.79 261.14 L633.51 261.1 L634.23 261.06 L634.94 261.01 L635.64 260.97 L636.32 260.92 L637 260.88 L637.67 260.83 L638.32 260.79 L638.96 260.74 L639.59 260.7 L640.2 260.66 L640.8 260.62 L641.38 260.57 L641.95 260.54 L642.5 260.5 L643.4 260.44 L644.24 260.38 L645.04 260.32 L645.79 260.26 L646.5 260.2 L647.18 260.14 L647.82 260.08 L648.45 260.02 L649.06 259.97 L649.65 259.91 L650.24 259.86 L650.82 259.8 L651.41 259.75 L652 259.7 L652.85 259.63 L653.72 259.56 L654.58 259.49 L655.43 259.42 L656.24 259.35 L657.01 259.29 L657.72 259.23 L658.34 259.18 L658.88 259.13 L659.3 259.1" fill="none" stroke="#2a2afc" stroke-width="1.1" stroke-linejoin="round"/>
<path d="M551.7 272.3 L551.7 271.9 L551.7 271.4 L551.7 270.81 L551.69 270.13 L551.68 269.4 L551.68 268.62 L551.67 267.81 L551.67 266.98 L551.67 266.14 L551.68 265.32 L551.69 264.53 L551.71 263.78 L551.74 263.09 L551.78 262.46 L551.83 261.93 L551.9 261.5 L552.45 260.37 L553.21 260.31 L554 260.3 L554.65 260 L555.33 259.75 L556.3 259.5 L556.86 259.38 L557.49 259.26 L558.17 259.14 L558.9 259.02 L559.68 258.91 L560.48 258.8 L561.3 258.7 L561.96 258.63 L562.65 258.55 L563.36 258.47 L564.1 258.4 L564.84 258.33 L565.6 258.27 L566.37 258.23 L567.14 258.21 L567.9 258.2 L568.56 258.21 L569.2 258.24 L569.81 258.28 L570.43 258.33 L571.06 258.39 L571.73 258.46 L572.44 258.54 L573.21 258.62 L574.06 258.71 L575 258.8 L575.53 258.85 L576.08 258.9 L576.65 258.95 L577.24 259.01 L577.84 259.07 L578.45 259.12 L579.09 259.19 L579.74 259.25 L580.4 259.31 L581.08 259.38 L581.77 259.44 L582.48 259.51 L583.2 259.58 L583.94 259.65 L584.68 259.72 L585.44 259.79 L586.22 259.86 L587 259.93 L587.8 260 L588.39 260.05 L588.99 260.11 L589.6 260.17 L590.23 260.23 L590.85 260.29 L591.49 260.35 L592.14 260.41 L592.79 260.48 L593.45 260.54 L594.12 260.61 L594.8 260.68 L595.48 260.74 L596.17 260.81 L596.86 260.87 L597.56 260.93 L598.27 261 L598.97 261.06 L599.69 261.12 L600.4 261.17 L601.12 261.23 L601.85 261.28 L602.57 261.33 L603.3 261.38 L604.03 261.42 L604.77 261.46 L605.5 261.5 L606.14 261.53 L606.79 261.56 L607.45 261.58 L608.12 261.61 L608.8 261.63 L609.48 261.66 L610.17 261.68 L610.87 261.7 L611.57 261.72 L612.27 261.73 L612.98 261.75 L613.69 261.76 L614.4 261.78 L615.11 261.79 L615.83 261.8 L616.54 261.81 L617.25 261.82 L617.95 261.82 L618.66 261.83 L619.36 261.83 L620.06 261.84 L620.75 261.84 L621.43 261.84 L622.11 261.84 L622.78 261.83 L623.45 261.83 L624.1 261.82 L624.74 261.82 L625.38 261.81 L626 261.8 L626.77 261.79 L627.54 261.77 L628.3 261.75 L629.06 261.72 L629.82 261.7 L630.57 261.67 L631.32 261.64 L632.06 261.6 L632.79 261.57 L633.51 261.53 L634.23 261.49 L634.94 261.45 L635.64 261.41 L636.32 261.36 L637 261.32 L637.67 261.27 L638.32 261.23 L638.96 261.18 L639.59 261.13 L640.2 261.09 L640.8 261.04 L641.38 260.99 L641.95 260.95 L642.5 260.9 L643.4 260.82 L644.24 260.73 L645.04 260.64 L645.79 260.54 L646.5 260.44 L647.18 260.34 L647.82 260.24 L648.45 260.14 L649.06 260.04 L649.65 259.95 L650.24 259.85 L650.82 259.76 L651.41 259.68 L652 259.6 L652.77 259.51 L653.56 259.41 L654.35 259.32 L655.12 259.24 L655.88 259.16 L656.6 259.08 L657.28 259.01 L657.9 258.95 L658.45 258.89 L658.92 258.84 L659.3 258.8" fill="none" stroke="#2a2afc" stroke-width="0.8" stroke-linejoin="round" stroke-dasharray="2.3 1.4"/>
<line x1="659.4" y1="259" x2="659.4" y2="272.3" stroke="#2a2afc" stroke-width="0.8"/>
<line x1="659.5" y1="180.3" x2="659.5" y2="272.3" stroke="#1a1a1a" stroke-width="0.85" stroke-dasharray="2.8 1.1"/>
<line x1="515.7" y1="180.45" x2="515.7" y2="276.3" stroke="#1a1a1a" stroke-width="0.88"/>
<line x1="511.7" y1="272.3" x2="675.65" y2="272.3" stroke="#1a1a1a" stroke-width="0.88"/>
<line x1="511.3" y1="180.8" x2="515.7" y2="180.8" stroke="#1a1a1a" stroke-width="0.88"/>
<text x="508.7" y="184" font-size="8.0" text-anchor="end" fill="#222222" stroke="#222222" stroke-width="0.18">30</text>
<line x1="511.3" y1="211.3" x2="515.7" y2="211.3" stroke="#1a1a1a" stroke-width="0.88"/>
<text x="508.7" y="214.5" font-size="8.0" text-anchor="end" fill="#222222" stroke="#222222" stroke-width="0.18">20</text>
<line x1="511.3" y1="241.8" x2="515.7" y2="241.8" stroke="#1a1a1a" stroke-width="0.88"/>
<text x="508.7" y="245" font-size="8.0" text-anchor="end" fill="#222222" stroke="#222222" stroke-width="0.18">10</text>
<line x1="511.3" y1="272.3" x2="515.7" y2="272.3" stroke="#1a1a1a" stroke-width="0.88"/>
<text x="508.7" y="275.5" font-size="8.0" text-anchor="end" fill="#222222" stroke="#222222" stroke-width="0.18">0</text>
<line x1="515.7" y1="272.3" x2="515.7" y2="276.3" stroke="#1a1a1a" stroke-width="0.88"/>
<text x="515.7" y="286" font-size="8.0" text-anchor="middle" fill="#222222" stroke="#222222" stroke-width="0.18">0</text>
<line x1="555.6" y1="272.3" x2="555.6" y2="276.3" stroke="#1a1a1a" stroke-width="0.88"/>
<text x="555.6" y="286" font-size="8.0" text-anchor="middle" fill="#222222" stroke="#222222" stroke-width="0.18">1,800</text>
<line x1="595.5" y1="272.3" x2="595.5" y2="276.3" stroke="#1a1a1a" stroke-width="0.88"/>
<text x="595.5" y="286" font-size="8.0" text-anchor="middle" fill="#222222" stroke="#222222" stroke-width="0.18">3,600</text>
<line x1="635.4" y1="272.3" x2="635.4" y2="276.3" stroke="#1a1a1a" stroke-width="0.88"/>
<text x="635.4" y="286" font-size="8.0" text-anchor="middle" fill="#222222" stroke="#222222" stroke-width="0.18">5,400</text>
<line x1="675.3" y1="272.3" x2="675.3" y2="276.3" stroke="#1a1a1a" stroke-width="0.88"/>
<text x="675.3" y="286" font-size="8.0" text-anchor="middle" fill="#222222" stroke="#222222" stroke-width="0.18">7,200</text>
<text x="595.4" y="300.3" font-size="9.2" text-anchor="middle" fill="#222222" stroke="#222222" stroke-width="0.18">Time (s)</text>
<text x="488.4" y="227.8" font-size="9.0" text-anchor="middle" fill="#222222" transform="rotate(-90 488.4 227.8)" stroke="#222222" stroke-width="0.18">Current (mA)</text>
<line x1="519.8" y1="174.5" x2="528" y2="174.5" stroke="#ff1fb4" stroke-width="1.0" stroke-dasharray="3.6 1.5"/>
<text x="530.6" y="176.5" font-size="8.0" letter-spacing="0.22" fill="#222222" stroke="#222222" stroke-width="0.18"><tspan font-style="italic">e</tspan>/g</text>
<line x1="519.8" y1="184.5" x2="528" y2="184.5" stroke="#ff1fb4" stroke-width="1.0"/>
<text x="530.6" y="186.5" font-size="8.0" letter-spacing="0.22" fill="#222222" stroke="#222222" stroke-width="0.18"><tspan font-style="italic">e</tspan>/f</text>
<line x1="548" y1="174.5" x2="556.2" y2="174.5" stroke="#2f9e33" stroke-width="1.0" stroke-dasharray="3.6 1.5"/>
<text x="558.8" y="176.5" font-size="8.0" letter-spacing="0.22" fill="#222222" stroke="#222222" stroke-width="0.18"><tspan font-style="italic">b</tspan>/g</text>
<line x1="548" y1="184.5" x2="556.2" y2="184.5" stroke="#2f9e33" stroke-width="1.0"/>
<text x="558.8" y="186.5" font-size="8.0" letter-spacing="0.22" fill="#222222" stroke="#222222" stroke-width="0.18"><tspan font-style="italic">b</tspan>/f</text>
<line x1="576.2" y1="174.5" x2="584.4" y2="174.5" stroke="#2a2afc" stroke-width="1.0" stroke-dasharray="3.6 1.5"/>
<text x="587" y="176.5" font-size="8.0" letter-spacing="0.05" fill="#222222" stroke="#222222" stroke-width="0.18"><tspan font-style="italic">a</tspan>/g × 30</text>
<line x1="576.2" y1="184.5" x2="584.4" y2="184.5" stroke="#2a2afc" stroke-width="1.0"/>
<text x="587" y="186.5" font-size="8.0" letter-spacing="0.05" fill="#222222" stroke="#222222" stroke-width="0.18"><tspan font-style="italic">a</tspan>/f × 30</text>
</svg>
</body>
</html>
